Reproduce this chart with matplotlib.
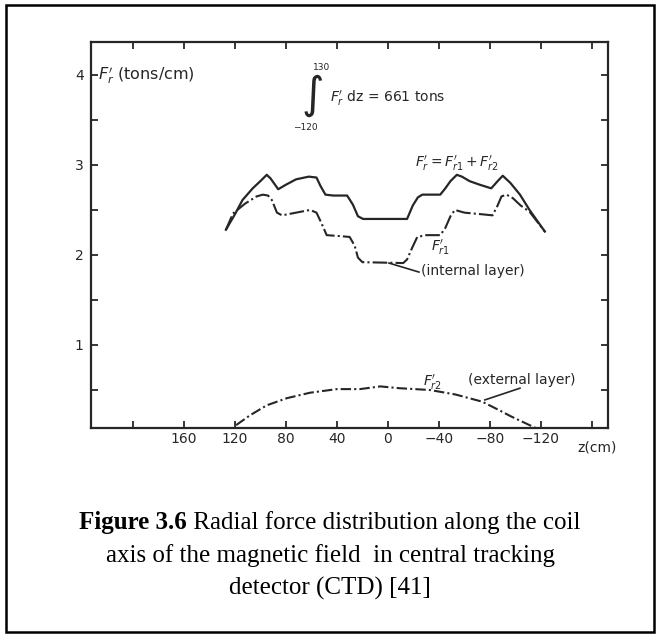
import numpy as np
import matplotlib
matplotlib.use('Agg')
import matplotlib.pyplot as plt
from matplotlib.patches import Rectangle

# ==== Data ====
# total radial force F'r = F'r1 + F'r2  (solid)
z_total = [127, 120, 114, 106, 100, 95, 92, 86, 80, 72, 62, 56, 53, 49, 43, 32,
           27.5, 23.5, 19.5, -15, -19.5, -23.5, -27, -41, -45, -49, -54, -58,
           -64, -72, -81, -86, -90, -96, -103.5, -111, -123]
f_total = [2.28, 2.45, 2.61, 2.74, 2.82, 2.89, 2.85, 2.73, 2.78, 2.84, 2.87, 2.86,
           2.77, 2.67, 2.66, 2.66, 2.56, 2.43, 2.40, 2.40, 2.55, 2.64, 2.67, 2.67,
           2.74, 2.82, 2.89, 2.87, 2.82, 2.78, 2.74, 2.82, 2.88, 2.80, 2.67, 2.50, 2.26]

# internal layer F'r1  (dash-dot)
z_internal = [127, 121.5, 112, 103, 98, 94, 91, 87, 83, 72, 61, 56, 52, 48, 38, 30,
              26, 23.5, 20, -12, -15, -19, -23, -30, -41, -45, -49, -52.5, -60, -75,
              -82, -86, -89, -93, -98, -104, -111, -123]
f_internal = [2.28, 2.46, 2.57, 2.65, 2.67, 2.66, 2.61, 2.47, 2.44, 2.47, 2.50, 2.47,
              2.35, 2.22, 2.21, 2.20, 2.10, 1.97, 1.92, 1.91, 1.95, 2.08, 2.20, 2.22,
              2.22, 2.30, 2.43, 2.50, 2.47, 2.45, 2.44, 2.55, 2.65, 2.67, 2.63, 2.55,
              2.48, 2.26]

# external layer F'r2  (dashed)
z_external = [119, 108, 95, 79, 61, 40, 22, 6, -9, -33, -53, -74, -88, -96, -117]
f_external = [0.11, 0.22, 0.33, 0.41, 0.47, 0.51, 0.51, 0.54, 0.52, 0.50, 0.45,
              0.37, 0.27, 0.21, 0.07]

x_ticks = [200, 160, 120, 80, 40, 0, -40, -80, -120, -160]
x_labels = ['', '160', '120', '80', '40', '0', '\u221240', '\u221280', '\u2212120', '']
y_ticks = [0.5, 1, 1.5, 2, 2.5, 3, 3.5, 4]
y_labels = ['', '1', '', '2', '', '3', '', '4']

INK = '#262626'

# ==== Figure ====
fig = plt.figure(figsize=(6.6, 6.37), dpi=100)
ax = fig.add_axes([0.1374, 0.3281, 0.7838, 0.6052])

ax.plot(z_total, f_total, color=INK, lw=1.6, ls='-', solid_joinstyle='round')
ax.plot(z_internal, f_internal, color=INK, lw=1.5, ls=(0, (7, 1.5, 1, 1.5)),
        dash_joinstyle='round')
ax.plot(z_external, f_external, color=INK, lw=1.5, ls=(0, (5, 1.5, 1, 1.5)),
        dash_joinstyle='round')

ax.set_xlim(233, -172.5)
ax.set_ylim(0.078, 4.36)

ax.set_xticks(x_ticks)
ax.set_xticklabels(x_labels)
ax.set_yticks(y_ticks)
ax.set_yticklabels(y_labels)
ax.tick_params(direction='in', length=5, width=1.3, colors=INK, labelsize=10,
               top=True, right=True)
ax.tick_params(axis='x', pad=3)
ax.tick_params(axis='y', pad=5)
for s in ax.spines.values():
    s.set_linewidth(1.6)
    s.set_color(INK)

# ==== Annotations ====
txt = dict(color=INK, fontsize=10)
ax.text(227.5, 4.0, r"$F_r'$ (tons/cm)", ha='left', va='center', color=INK, fontsize=11.5)

ax.text(59.6, 3.77, r'$\int$', ha='center', va='center', color=INK, fontsize=22)
ax.text(51.8, 4.08, '130', ha='center', va='center', color=INK, fontsize=6.5)
ax.text(65, 3.42, '\u2212120', ha='center', va='center', color=INK, fontsize=6.5)
ax.text(45.5, 3.74, r"$F_r'$ dz = 661 tons", ha='left', va='center', **txt)

ax.text(-21, 3.02, r"$F_r' = F_{r1}' + F_{r2}'$", ha='left', va='center', **txt)
ax.text(-41, 2.08, r"$F_{r1}'$", ha='center', va='center', **txt)
ax.text(-26, 1.82, '(internal layer)', ha='left', va='center', **txt)
ax.plot([-24.3, -0.8], [1.81, 1.91], color=INK, lw=1.2)

ax.text(-27.5, 0.59, r"$F_{r2}'$", ha='left', va='center', **txt)
ax.text(-63, 0.61, '(external layer)', ha='left', va='center', **txt)
ax.plot([-103.5, -76], [0.52, 0.39], color=INK, lw=1.2)

ax.text(-164, -0.14, 'z(cm)', ha='center', va='center', clip_on=False, **txt)

# ==== Caption ====
cap = dict(family='Liberation Serif', fontsize=18, color='black', va='center')
fig.canvas.draw()
r = fig.canvas.get_renderer()
t1 = fig.text(0, 1 - 523 / 637, 'Figure 3.6', weight='bold', **cap)
t2 = fig.text(0, 1 - 523 / 637, ' Radial force distribution along the coil', **cap)
w1 = t1.get_window_extent(r).width
w2 = t2.get_window_extent(r).width
x0 = (660 - w1 - w2) / 2
t1.set_x(x0 / 660)
t2.set_x((x0 + w1) / 660)
fig.text(0.5, 1 - 556 / 637, 'axis of the magnetic field  in central tracking',
         ha='center', **cap)
fig.text(0.5, 1 - 588 / 637, 'detector (CTD) [41]', ha='center', **cap)

# outer frame
fig.patches.append(Rectangle((6 / 660, 5 / 637), 648 / 660, 627 / 637,
                             transform=fig.transFigure, fill=False,
                             edgecolor='black', lw=1.8))

plt.savefig('out.png', dpi=100)
